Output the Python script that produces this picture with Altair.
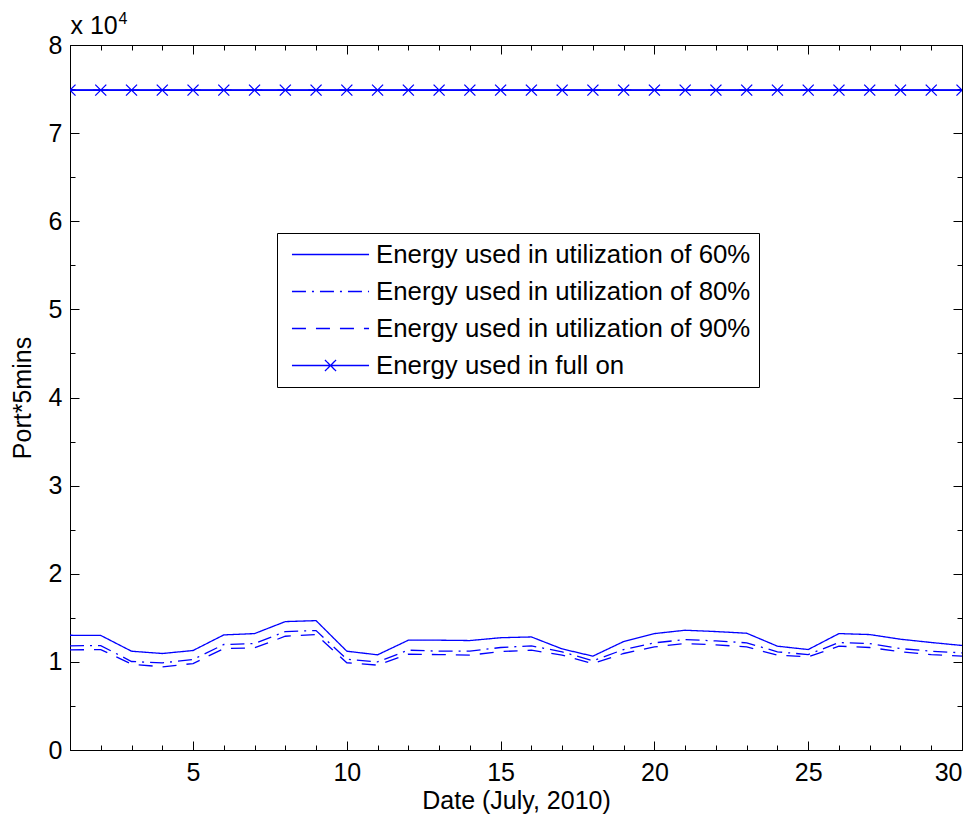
import altair as alt
import pandas as pd

FONT = "Liberation Sans"
BLUE = "#0000ff"
FS = 25

days = list(range(1, 31))
util60 = [13020, 13000, 11210, 10950, 11290, 13060, 13210, 14570, 14680, 11210,
          10800, 12460, 12460, 12420, 12740, 12830, 11470, 10650, 12310, 13210,
          13590, 13440, 13250, 11780, 11400, 13210, 13100, 12570, 12200, 11860]
util80 = [11820, 11850, 10040, 9890, 10270, 11970, 12080, 13440, 13550, 10300,
          10000, 11330, 11210, 11210, 11630, 11820, 11140, 10120, 11400, 12160,
          12530, 12380, 12160, 11140, 10830, 12190, 12080, 11510, 11210, 11020]
util90 = [11360, 11400, 9740, 9440, 9810, 11510, 11590, 12910, 13100, 9900,
          9630, 10870, 10830, 10760, 11170, 11330, 10760, 9810, 10950, 11700,
          12080, 11930, 11700, 10760, 10570, 11780, 11630, 11140, 10830, 10650]
full_on = [74880, 74880, 74880, 74880, 74880, 74880, 74880, 74880, 74880, 74880,
           74880, 74880, 74880, 74880, 74880, 74880, 74880, 74880, 74880, 74880,
           74880, 74880, 74880, 74880, 74880, 74880, 74880, 74880, 74880, 74880]

series_names = ["Energy used in utilization of 60%",
                "Energy used in utilization of 80%",
                "Energy used in utilization of 90%",
                "Energy used in full on"]

x_major = [5, 10, 15, 20, 25, 30]
x_minor = days
y_major = [0, 10000, 20000, 30000, 40000, 50000, 60000, 70000, 80000]
y_minor = [0, 5000, 10000, 15000, 20000, 25000, 30000, 35000, 40000, 45000,
           50000, 55000, 60000, 65000, 70000, 75000, 80000]

rows = []
for name, vals in zip(series_names, [util60, util80, util90, full_on]):
    for d, v in zip(days, vals):
        rows.append({"day": d, "value": v, "series": name})
df = pd.DataFrame(rows)

xscale = alt.Scale(domain=[1, 30], nice=False, zero=False)
yscale = alt.Scale(domain=[0, 80000], nice=False, zero=False)

line_path = "M-3,0H3"
full_path = "M-3,0H3M-0.43,-0.43L0.43,0.43M-0.43,0.43L0.43,-0.43"
SYM = 660

legend = alt.Legend(
    title=None, orient="none", legendX=207, legendY=188,
    labelFont=FONT, labelFontSize=25.8, labelColor="black", labelLimit=600,
    symbolSize=SYM, symbolStrokeWidth=1.3, symbolStrokeColor=BLUE,
    symbolFillColor="transparent",
    strokeColor="black", fillColor="white", padding=8, rowPadding=10,
    symbolOffset=32, labelOffset=32,
)


def tick_axis(orient, values, size, **kw):
    return alt.Axis(orient=orient, values=values, offset=-size, tickSize=size,
                    ticks=True, tickColor="black", tickWidth=1, domain=False,
                    labels=False, grid=False, **kw)


def corner_title(text, size, tx, ty):
    return dict(title=text, titleAngle=0, titleX=tx, titleY=ty, titleAlign="left",
                titleBaseline="alphabetic", titleFont=FONT, titleFontSize=size,
                titleFontWeight="normal", titleColor="black")


lines = alt.Chart(df).mark_line(color=BLUE, strokeWidth=1.3).encode(
    x=alt.X("day:Q", scale=xscale,
            axis=alt.Axis(orient="bottom", values=x_major, ticks=False, tickSize=0,
                          domain=False, grid=False, labelFont=FONT, labelFontSize=FS,
                          labelColor="black", labelPadding=10,
                          title="Date (July, 2010)", titleFont=FONT, titleFontSize=FS,
                          titleFontWeight="normal", titleColor="black", titlePadding=3)),
    y=alt.Y("value:Q", scale=yscale,
            axis=alt.Axis(orient="left", values=y_major, ticks=False, tickSize=0,
                          domain=False, grid=False, labelFont=FONT, labelFontSize=FS,
                          labelColor="black", labelPadding=8,
                          labelExpr="datum.value / 10000",
                          title="Port*5mins", titleFont=FONT, titleFontSize=FS,
                          titleFontWeight="normal", titleColor="black", titlePadding=13)),
    strokeDash=alt.StrokeDash("series:N",
                              scale=alt.Scale(domain=series_names,
                                              range=[[1, 0], [14, 6, 2, 6], [14, 10], [1, 0]]),
                              legend=legend),
    detail="series:N",
)

points = alt.Chart(df[df["series"] == series_names[3]]).mark_point(
    color=BLUE, filled=False, strokeWidth=1.3, size=SYM, opacity=1, clip=True
).encode(
    x=alt.X("day:Q", scale=xscale, axis=tick_axis("bottom", x_major, 9, title=None)),
    y=alt.Y("value:Q", scale=yscale,
            axis=tick_axis("left", y_major, 9, **corner_title("x 10", FS, -9, -12))),
    shape=alt.Shape("series:N",
                    scale=alt.Scale(domain=series_names,
                                    range=[line_path, line_path, line_path, full_path]),
                    legend=legend),
)


def ghost(xa, ya):
    return alt.Chart(df).mark_line(opacity=0).encode(
        x=alt.X("day:Q", scale=xscale, axis=xa),
        y=alt.Y("value:Q", scale=yscale, axis=ya),
        detail="series:N",
    )


g1 = ghost(tick_axis("bottom", x_minor, 5, title=None),
           tick_axis("left", y_minor, 5, **corner_title("4", 16, 43, -22)))
g2 = ghost(tick_axis("top", x_major, 9, title=None), tick_axis("right", y_major, 9, title=None))
g3 = ghost(tick_axis("top", x_minor, 5, title=None), tick_axis("right", y_minor, 5, title=None))

chart = alt.layer(lines, points, g1, g2, g3).resolve_axis(
    x="independent", y="independent"
).properties(
    width=892, height=705,
    padding={"left": 62, "top": 37, "right": 10, "bottom": 66},
    autosize=alt.AutoSizeParams(type="none"),
).configure_view(stroke="black", strokeWidth=1).configure_axis(grid=False)

chart.save("out.html", embed_options={"renderer": "svg", "actions": False})
